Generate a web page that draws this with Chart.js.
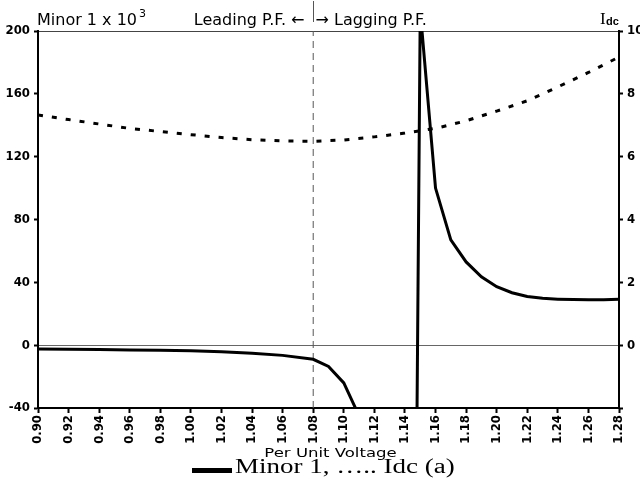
<!DOCTYPE html>
<html>
<head>
<meta charset="utf-8">
<script src="https://cdn.jsdelivr.net/npm/chart.js@4/dist/chart.umd.min.js"></script>
<style>
  html, body { margin: 0; padding: 0; background: #fff; }
  #minorCanvas { display: block; }
</style>
</head>
<body>
<canvas id="minorCanvas" width="640" height="490"></canvas>
<script>
// Minor 1 (x 10^3) against per unit voltage
var minor_volts = [0.90, 0.92, 0.94, 0.96, 0.98, 1.00, 1.02, 1.04, 1.06, 1.08,
  1.09, 1.10, 1.11, 1.12, 1.13, 1.14, 1.15, 1.16, 1.17, 1.18, 1.19, 1.20,
  1.21, 1.22, 1.23, 1.24, 1.25, 1.26, 1.27, 1.28];
var minor_vals = [-2.5, -2.6, -2.8, -3.0, -3.3, -3.6, -4.2, -5.2, -6.5, -9.0,
  -13.5, -24, -45, -75, -140, -1000, 213, 100, 67, 53, 43.5, 37.2,
  33.4, 31, 29.8, 29.3, 29, 28.9, 28.9, 29.3];

// Idc against per unit voltage
var idc_volts = [0.90, 0.92, 0.94, 0.96, 0.98, 1.00, 1.02, 1.04, 1.06, 1.08,
  1.10, 1.12, 1.14, 1.16, 1.18, 1.20, 1.22, 1.24, 1.26, 1.28];
var idc_vals = [7.33, 7.18, 7.04, 6.90, 6.80, 6.70, 6.61, 6.54, 6.50, 6.49,
  6.53, 6.63, 6.75, 6.90, 7.14, 7.45, 7.78, 8.22, 8.68, 9.17];

// leading / lagging power factor boundary
var pf_boundary = 1.08;

var volt_range = [0.90, 1.28];
var minor_range = [-40, 200];
var idc_range = [-2, 10];

var left_title = "Minor 1 x 10";
var left_title_exp = "3";
var lead_text = "Leading P.F. \u2190";
var lag_text = "\u2192 Lagging P.F.";
var right_title = "I";
var right_title_sub = "dc";
var x_title = "Per Unit Voltage";
var legend_text = "Minor 1, \u2026.. Idc (a)";

var tickFont = {family: "'Liberation Sans Narrow', 'DejaVu Sans Condensed', 'Liberation Sans', sans-serif", size: 13, weight: 'bold'};

function $each(arr, fn) { for (var i = 0; i < arr.length; i++) fn(i, arr[i]); }
function toPoints(xs, ys) {
  var pts = [];
  $each(xs, function(i, v) { pts.push({x: v, y: ys[i]}); });
  return pts;
}

// draw text squeezed/stretched horizontally around (x, y)
function wideText(ctx, text, x, y, stretch) {
  ctx.save();
  ctx.translate(x, y);
  ctx.scale(stretch, 1);
  ctx.fillText(text, 0, 0);
  ctx.restore();
}

// header texts, divider tick, axis title and the single-line legend
var annotatePlugin = {
  id: 'annotate',
  afterDraw: function(chart) {
    var ctx = chart.ctx;
    var area = chart.chartArea;
    var bx = Math.round(chart.scales.x.getPixelForValue(pf_boundary)) + 0.5;
    ctx.save();
    ctx.fillStyle = '#000';
    ctx.textBaseline = 'alphabetic';

    ctx.font = '16px "DejaVu Sans"';
    ctx.textAlign = 'left';
    ctx.fillText(left_title, area.left - 1, 25);
    var w = ctx.measureText(left_title).width;
    ctx.font = '11px "DejaVu Sans"';
    ctx.fillText(left_title_exp, area.left + w + 1, 17);

    ctx.font = '16px "DejaVu Sans"';
    ctx.textAlign = 'right';
    ctx.fillText(lead_text, bx - 9, 25);
    ctx.textAlign = 'left';
    ctx.fillText(lag_text, bx + 2, 25);
    ctx.strokeStyle = '#555';
    ctx.lineWidth = 1;
    ctx.beginPath();
    ctx.moveTo(bx, 1);
    ctx.lineTo(bx, 22);
    ctx.stroke();

    ctx.font = '17px "Liberation Serif"';
    ctx.fillText(right_title, area.right - 19, 24);
    ctx.font = 'bold 11px "Liberation Sans"';
    ctx.fillText(right_title_sub, area.right - 13, 25);

    // x axis title
    ctx.font = '13px "DejaVu Sans"';
    var stretch = 1.27;
    var xw = ctx.measureText(x_title).width * stretch;
    wideText(ctx, x_title, (area.left + area.right) / 2 + 2 - xw / 2, 457, stretch);

    // legend: thick swatch + stretched serif label
    ctx.font = '20px "Liberation Serif"';
    stretch = 1.35;
    var tw = ctx.measureText(legend_text).width * stretch;
    var total = 40 + 3 + tw;
    var lx = Math.round(chart.width / 2 + 3 - total / 2);
    ctx.fillRect(lx, 468, 40, 5);
    wideText(ctx, legend_text, lx + 43, 473, stretch);
    ctx.restore();
  }
};

function ChartDisplay() {
  var canvas = document.getElementById("minorCanvas");
  var context = canvas.getContext("2d");
  new Chart(context, {
    type: 'line',
    data: {
      datasets: [{
        label: "Minor 1",
        data: toPoints(minor_volts, minor_vals),
        borderColor: '#000',
        borderWidth: 3,
        pointRadius: 0,
        tension: 0,
        yAxisID: 'y'
      }, {
        label: "Idc",
        data: toPoints(idc_volts, idc_vals),
        borderColor: '#000',
        borderWidth: 3,
        borderDash: [5, 9],
        pointRadius: 0,
        tension: 0,
        yAxisID: 'y1'
      }, {
        label: "P.F. boundary",
        data: [{x: pf_boundary, y: minor_range[0]}, {x: pf_boundary, y: minor_range[1]}],
        borderColor: '#555',
        borderWidth: 1,
        borderDash: [7, 5],
        pointRadius: 0,
        yAxisID: 'y'
      }]
    },
    options: {
      responsive: false,
      animation: false,
      events: [],
      layout: {padding: {top: 31, left: 0, right: 0, bottom: 0}},
      plugins: {legend: {display: false}, tooltip: {enabled: false}},
      scales: {
        x: {
          type: 'linear',
          min: volt_range[0],
          max: volt_range[1],
          afterFit: function(s) { s.height = 82; },
          border: {color: '#000', width: 2},
          grid: {drawOnChartArea: false, tickLength: 5, tickColor: '#000', tickWidth: 2},
          ticks: {
            stepSize: 0.02,
            autoSkip: false,
            minRotation: 90,
            maxRotation: 90,
            padding: 2,
            color: '#000',
            font: tickFont,
            callback: function(v) { return v.toFixed(2); }
          }
        },
        y: {
          position: 'left',
          min: minor_range[0],
          max: minor_range[1],
          afterFit: function(s) { s.width = 38; },
          border: {color: '#000', width: 2},
          grid: {
            color: function(c) {
              if (c.tick.value === 0) return '#666';
              if (c.tick.value === minor_range[1]) return '#444';
              return 'rgba(0,0,0,0)';
            },
            lineWidth: 1,
            tickLength: 4,
            tickColor: '#000',
            tickWidth: 2
          },
          ticks: {stepSize: 40, padding: 4, color: '#000', font: tickFont}
        },
        y1: {
          position: 'right',
          min: idc_range[0],
          max: idc_range[1],
          afterFit: function(s) { s.width = 21; },
          border: {color: '#000', width: 2},
          grid: {drawOnChartArea: false, tickLength: 4, tickColor: '#000', tickWidth: 2},
          ticks: {
            stepSize: 2,
            padding: 4,
            color: '#000',
            font: tickFont,
            callback: function(v) { return v === idc_range[0] ? '' : v; }
          }
        }
      }
    },
    plugins: [annotatePlugin]
  });
}

ChartDisplay();
</script>
</body>
</html>
